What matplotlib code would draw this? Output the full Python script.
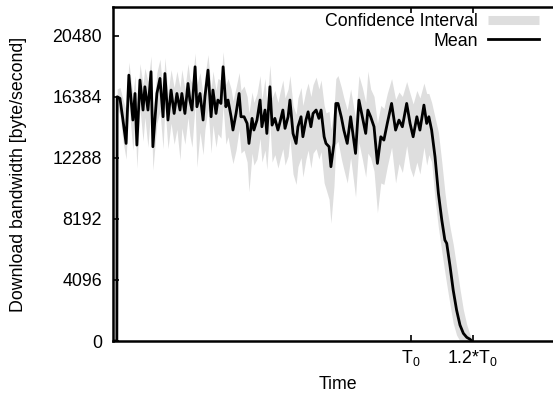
import matplotlib
matplotlib.use('Agg')
import matplotlib.pyplot as plt
from matplotlib.lines import Line2D

plt.rcParams['font.family'] = ['Liberation Sans', 'DejaVu Sans']
plt.rcParams['mathtext.default'] = 'regular'

# time axis in units where T0 = 100
T0 = 100
time = [3.3, 4.5, 4.6, 5.5, 6.5, 7.5, 8.4, 9.7, 10.4, 11.0, 12.0, 13.0, 13.6, 14.6,
        15.6, 16.2, 17.5, 18.5, 19.5, 20.1, 21.1, 22.1, 23.1, 24.0, 25.0, 25.6,
        26.6, 27.6, 28.2, 28.9, 29.9, 30.5, 31.5, 32.5, 33.1, 34.1, 35.1, 35.7,
        36.7, 37.3, 38.3, 39.0, 39.9, 40.6, 41.6, 42.2, 43.2, 44.2, 44.8, 45.8,
        46.8, 47.4, 48.4, 49.0, 50.0, 51.0, 51.6, 52.6, 53.2, 54.2, 54.9, 55.8,
        56.8, 57.5, 58.4, 59.1, 60.1, 60.7, 61.7, 62.7, 63.3, 64.3, 64.9, 65.9,
        66.6, 67.5, 68.2, 69.2, 70.1, 70.8, 71.8, 72.4, 73.4, 74.0, 75.0, 75.6,
        76.3, 77.4, 78.2, 79.3, 80.4, 82.0, 83.1, 84.2, 85.3, 86.0, 86.9, 88.0,
        89.1, 90.2, 91.2, 92.3, 93.7, 95.0, 96.1, 97.2, 98.6, 99.7, 100.7, 101.9,
        102.9, 104.2, 105.1, 105.8, 106.7, 107.8, 108.9, 110.0, 111.0, 111.6,
        112.7, 113.7, 114.8, 115.9, 117.0, 118.1, 119.2, 119.7]

mean = [0, 0, 16380, 16270, 14800, 13250, 17830, 14820, 16600, 13140, 17500, 15490,
        17050, 15490, 18060, 13030, 16600, 17610, 15040, 17940, 14820, 16830, 15260,
        16600, 15490, 16600, 15260, 17270, 16160, 15490, 18390, 15710, 16600, 14820,
        16380, 18170, 15040, 16830, 15260, 16160, 15930, 18390, 15710, 16160, 15040,
        14150, 15260, 16600, 15040, 15040, 14590, 13250, 14930, 14150, 14820, 16160,
        14370, 15490, 13920, 17050, 14480, 14930, 14150, 14700, 15490, 14260, 15040,
        16160, 13920, 13250, 14370, 15040, 13700, 14820, 15370, 14370, 15260, 15490,
        14930, 15490, 13700, 13250, 13030, 11690, 13250, 15930, 15930, 15000, 14145,
        13251, 15039, 12581, 16156, 15039, 13922, 15486, 15039, 14369, 11910, 13698,
        13475, 14592, 15933, 14145, 14816, 14369, 15933, 14592, 13698, 15039, 14145,
        15821, 14592, 15039, 14145, 12357, 9900, 8112, 6771, 6548, 4984, 3419, 2078,
        1073, 514, 246, 112, 0]

ci_low = [0, 0, 15600, 15200, 13400, 12200, 15900, 12800, 14800, 11600, 15600, 13400,
          15000, 13000, 15800, 11460, 14600, 15400, 12900, 15700, 12900, 14600, 13200,
          14200, 12130, 14300, 13200, 15000, 13800, 13000, 15900, 11660, 14000, 12500,
          14200, 15600, 12600, 14500, 13000, 13900, 13600, 15800, 13200, 13700, 12500,
          11900, 12800, 14200, 12600, 12800, 12000, 10010, 12600, 11800, 12200, 13600,
          12000, 12800, 11500, 14600, 12000, 12500, 11600, 12200, 12900, 11800, 12400,
          13600, 11200, 10500, 11700, 12300, 11000, 12200, 12800, 11600, 12600, 12900,
          12200, 12700, 10600, 10200, 9500, 7900, 10400, 13200, 13400, 12200, 11500,
          10600, 12300, 9650, 13300, 12200, 11000, 12600, 12300, 11400, 8600, 10600,
          10500, 11700, 13000, 10600, 11900, 11300, 13100, 11600, 11000, 12000, 11200,
          13000, 11800, 12500, 12000, 9500, 7600, 6000, 4600, 3800, 2400, 1200, 400,
          0, 0, 0, 0, 0]

ci_high = [0, 0, 16900, 17000, 16200, 15500, 18700, 16500, 17800, 15000, 18600, 17200,
           18300, 17400, 19100, 15200, 18000, 18900, 16600, 19000, 16600, 18200, 17000,
           18100, 17000, 18200, 16900, 18600, 17600, 17300, 19300, 17200, 18000, 16500,
           17800, 19200, 16900, 18100, 16800, 17600, 17500, 19400, 17200, 17600, 16900,
           16100, 17000, 18000, 16800, 17100, 16400, 15300, 16700, 16000, 16600, 17800,
           16200, 17600, 15900, 18500, 16300, 16800, 16000, 16700, 17500, 16300, 16900,
           17800, 15800, 15200, 16300, 17000, 15800, 16800, 17300, 16400, 17200, 17700,
           16900, 17500, 15800, 15300, 15400, 14200, 15600, 17600, 17800, 17000, 16300,
           15500, 16900, 14900, 17800, 17000, 16000, 18100, 16900, 16400, 14600, 15800,
           15600, 16600, 17600, 16200, 16700, 16400, 17400, 16600, 15900, 16800, 16300,
           17300, 16600, 16600, 16000, 15000, 14000, 12000, 10000, 9000, 7600, 6500, 5000,
           3500, 2100, 1100, 400, 100]

yticks = [0, 4096, 8192, 12288, 16384, 20480]
xticks = [T0, 1.2 * T0]
xticklabels = ['T$_0$', '1.2*T$_0$']

fs = 12.8
fig = plt.figure(figsize=(5.53, 3.98), dpi=100)
ax = fig.add_axes([113 / 553, 57 / 398, 460 / 553, 334 / 398])

ax.fill_between(time, ci_low, ci_high, color='#dedede', lw=0)
ax.plot(time, mean, color='black', lw=2.0)

ax.set_xlim(3.25, 152.6)
ax.set_ylim(0, 22400)
ax.set_yticks(yticks)
ax.set_xticks(xticks)
ax.set_xticklabels(xticklabels)

for s in ax.spines.values():
    s.set_linewidth(1.8)
ax.spines['right'].set_visible(False)
ax.tick_params(axis='y', direction='in', length=4.5, width=1.2, pad=8, labelsize=fs)
ax.tick_params(axis='x', direction='in', length=4.5, width=1.2, pad=5, labelsize=fs,
               top=True)

ax.set_xlabel('Time', fontsize=fs)
ax.set_ylabel('Download bandwidth [byte/second]', fontsize=fs)
ax.xaxis.set_label_coords((338 - 113) / 460, -0.105)
ax.yaxis.set_label_coords(-86 / 460, 0.5)

handles = [Line2D([], [], color='#dedede', lw=6.5, solid_capstyle='butt'),
           Line2D([], [], color='black', lw=2.0)]
fig.legend(handles, ['Confidence Interval', 'Mean'], loc='upper right',
           bbox_to_anchor=(548 / 553, 1 - 4 / 398), frameon=False, markerfirst=False,
           fontsize=fs, borderpad=0, labelspacing=0.15, handlelength=2.9,
           handletextpad=0.55)

fig.savefig('out.png', dpi=100)
